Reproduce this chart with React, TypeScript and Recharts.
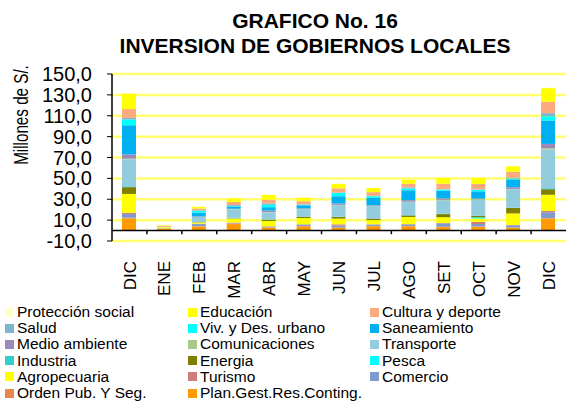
import React from "react";
import {
  BarChart,
  Bar,
  XAxis,
  YAxis,
  CartesianGrid,
  ReferenceLine,
  Legend,
} from "recharts";

const months = ["DIC", "ENE", "FEB", "MAR", "ABR", "MAY", "JUN", "JUL", "AGO", "SET", "OCT", "NOV", "DIC"];
const periods = ["dic0", "ene", "feb", "mar", "abr", "may", "jun", "jul", "ago", "set", "oct", "nov", "dic1"];
const yTicks = [-10, 10, 30, 50, 70, 90, 110, 130, 150];

// millones de S/. por función, de abajo hacia arriba en la pila
const planGest = [11.5, 1.8, 3.8, 6.2, 2.6, 4, 2.5, 4, 4, 3.3, 3.5, 2.6, 11.5];
const ordenPub = [0.8, 0.2, 0.4, 0.4, 0.5, 0.3, 0.5, 0.4, 0.4, 0.3, 0.4, 0.3, 0.5];
const comercio = [3.5, 0.2, 2, 0.3, 0.5, 1.5, 1.8, 1.4, 1.5, 3.3, 2.4, 2.2, 5.5];
const turismo = [1.3, 0, 0.4, 0.8, 0.5, 0.2, 1.2, 0.2, 0.3, 0.4, 2, 0.3, 1.3];
const agropecuaria = [18, 1, 1.2, 3.8, 5, 6, 5.5, 4, 6.8, 5.5, 3.2, 11, 15.5];
const pesca = [0, 0, 0, 0, 0, 0, 0, 0, 0, 0, 1.2, 0, 0];
const energia = [6.5, 0, 0.3, 0.3, 1.2, 1.3, 1.5, 1.5, 1.5, 3, 1.5, 5.3, 5.3];
const industria = [0.8, 0, 0, 0.5, 0.4, 0.2, 0.3, 0.2, 0.3, 0.3, 0.3, 0.4, 1];
const transporte = [26, 0.5, 5, 8, 6.6, 7, 11, 11.8, 12.5, 13, 15, 17.5, 37];
const comunicaciones = [0.5, 0, 0, 0.3, 0.4, 0.2, 0.3, 0.2, 0.3, 0.3, 0.3, 0.3, 1.4];
const medioAmbiente = [4, 0, 0.5, 0.3, 1.5, 0.5, 1.3, 0.6, 1.5, 1.4, 0.8, 1.6, 4];
const saneamiento = [28, 0, 3.6, 2.2, 3.2, 3, 7, 7, 9.5, 7.3, 7, 7.5, 22.5];
const vivienda = [5.5, 0, 1.8, 0.4, 2.2, 0.4, 3.2, 1.6, 1.8, 1.2, 1.5, 0.8, 4];
const salud = [1.5, 0, 0.5, 0.9, 1.5, 0.5, 0.4, 0.4, 1, 0.3, 0.3, 1, 3];
const cultura = [8.5, 1, 1.6, 3, 3.5, 3, 4, 3.5, 3.5, 5.3, 5.3, 5.5, 11];
const educacion = [15, 0.5, 1.6, 3.6, 4.5, 3.5, 4.3, 4, 3.8, 5.5, 5.8, 5.4, 13];
const proteccion = [0.5, 0.5, 0.4, 0.5, 0.5, 0.3, 0.2, 0.2, 0.3, 0.3, 0.3, 0.3, 0.5];

const series = [
  { key: "planGest", name: "Plan.Gest.Res.Conting.", color: "#FF9900", values: planGest },
  { key: "ordenPub", name: "Orden Pub. Y Seg.", color: "#E8874A", values: ordenPub },
  { key: "comercio", name: "Comercio", color: "#7F9BCB", values: comercio },
  { key: "turismo", name: "Turismo", color: "#CF7C7C", values: turismo },
  { key: "agropecuaria", name: "Agropecuaria", color: "#FFFF00", values: agropecuaria },
  { key: "pesca", name: "Pesca", color: "#00FFFF", values: pesca },
  { key: "energia", name: "Energia", color: "#808000", values: energia },
  { key: "industria", name: "Industria", color: "#33CCCC", values: industria },
  { key: "transporte", name: "Transporte", color: "#93CDDD", values: transporte },
  { key: "comunicaciones", name: "Comunicaciones", color: "#A9C98A", values: comunicaciones },
  { key: "medioAmbiente", name: "Medio ambiente", color: "#9B89B9", values: medioAmbiente },
  { key: "saneamiento", name: "Saneamiento", color: "#00B0F0", values: saneamiento },
  { key: "vivienda", name: "Viv. y Des. urbano", color: "#00FFFF", values: vivienda },
  { key: "salud", name: "Salud", color: "#7CB5CE", values: salud },
  { key: "cultura", name: "Cultura y deporte", color: "#FAAA7C", values: cultura },
  { key: "educacion", name: "Educación", color: "#FFFF00", values: educacion },
  { key: "proteccion", name: "Protección social", color: "#FFFFCC", values: proteccion },
];

const data = periods.map((id, i) => {
  const row: Record<string, any> = { id };
  series.forEach((s) => {
    row[s.key] = s.values[i];
  });
  return row;
});

const font = "'Liberation Sans', Arial, sans-serif";

const MonthTick = (props: any) => {
  const { x, y, payload } = props;
  const ty = y + 12;
  return (
    <text
      x={x}
      y={ty}
      transform={`rotate(-90 ${x} ${ty})`}
      textAnchor="end"
      dy="0.36em"
      fontSize={17}
      fontFamily={font}
      fill="#000"
    >
      {months[payload.index]}
    </text>
  );
};

const LegendGrid = () => (
  <div
    style={{
      display: "grid",
      gridTemplateColumns: "183px 182px 190px",
      fontFamily: font,
      fontSize: 15.5,
      lineHeight: "16.2px",
      color: "#000",
    }}
  >
    {[...series].reverse().map((s) => (
      <div key={s.key} style={{ display: "flex", alignItems: "center", whiteSpace: "nowrap" }}>
        <span style={{ width: 9, height: 9, background: s.color, marginRight: 3, flex: "none" }} />
        {s.name}
      </div>
    ))}
  </div>
);

export default function App() {
  return (
    <div style={{ position: "absolute", left: 0, top: 0, width: 566, height: 401, background: "#fff" }}>
      <div
        style={{
          position: "absolute",
          left: 95,
          width: 440,
          top: 8,
          textAlign: "center",
          fontFamily: font,
          fontWeight: "bold",
          fontSize: 21,
          lineHeight: "25px",
        }}
      >
        GRAFICO No. 16
        <br />
        INVERSION DE GOBIERNOS LOCALES
      </div>
      <div
        style={{
          position: "absolute",
          left: 21,
          top: 115,
          transform: "translate(-50%, -50%) rotate(-90deg) scaleX(0.76)",
          fontFamily: font,
          fontSize: 20,
          whiteSpace: "nowrap",
        }}
      >
        Millones de S/.
      </div>
      <BarChart
        width={566}
        height={401}
        data={data}
        margin={{ top: 74, right: 0, bottom: 100, left: 0 }}
        barSize={14}
      >
        <CartesianGrid horizontal vertical={false} stroke="#FFFF70" strokeWidth={2.5} />
        <XAxis dataKey="id" axisLine={false} tickLine={false} interval={0} height={60} tick={<MonthTick />} />
        <YAxis
          type="number"
          domain={[-10, 150]}
          ticks={yTicks}
          interval={0}
          width={112}
          tickSize={5}
          tickMargin={15}
          tickFormatter={(v: number) => v.toFixed(1).replace(".", ",")}
          tick={{ fontSize: 20, fill: "#000", fontFamily: font }}
          axisLine={{ stroke: "#000", strokeWidth: 1.5 }}
          tickLine={{ stroke: "#000" }}
        />
        {series.map((s) => (
          <Bar key={s.key} dataKey={s.key} name={s.name} stackId="a" fill={s.color} isAnimationActive={false} />
        ))}
        <ReferenceLine y={0} stroke="#000" strokeWidth={1.5} />
        {periods.slice(1).map((p) => (
          <ReferenceLine
            key={p}
            position="start"
            segment={[
              { x: p, y: 0 },
              { x: p, y: -3.5 },
            ]}
            stroke="#000"
            strokeWidth={1.5}
          />
        ))}
        <Legend
          layout="horizontal"
          verticalAlign="middle"
          align="center"
          content={<LegendGrid />}
          wrapperStyle={{ left: 5, top: 304, width: 561 }}
        />
      </BarChart>
    </div>
  );
}
